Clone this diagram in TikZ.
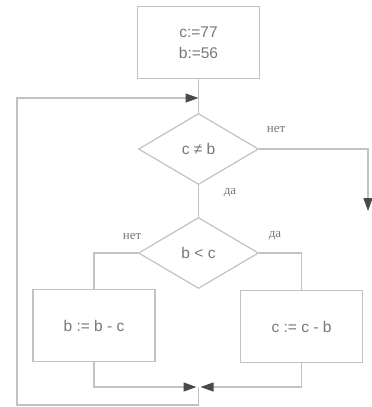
\documentclass[tikz,border=0pt]{standalone}
\usepackage{fontspec}
\setmainfont{Liberation Serif}
\newfontfamily\arialf{Liberation Sans}
\usetikzlibrary{arrows.meta,shapes.geometric}
\definecolor{ln}{HTML}{C2C2C2}
\definecolor{tx}{HTML}{777777}
\definecolor{ah}{HTML}{4A4A4A}
\begin{document}
\begin{tikzpicture}[x=1pt,y=-1pt,
  box/.style={draw=ln,line width=1.2pt,minimum width=122pt,minimum height=72pt,inner sep=0pt,text=tx,font=\arialf\fontsize{15.5}{21}\selectfont,align=center},
  dec/.style={draw=ln,line width=1.2pt,diamond,minimum width=120pt,minimum height=71pt,inner sep=0pt,text=tx,font=\arialf\fontsize{15.5}{20}\selectfont},
  lab/.style={text=tx,font=\fontsize{13}{15}\selectfont,inner sep=0pt},
  conn/.style={draw=ln,line width=1.2pt},
  arr/.style={conn,-{Triangle[length=13pt,width=9pt,color=ah,fill=ah]}}]
\useasboundingbox (0,0) rectangle (372,407);
\node[box] (init) at (198.5,42.5) {c:=77\\b:=56};
\node[dec] (d1) at (198.5,149) {c ≠ b};
\node[dec] (d2) at (198.5,253) {b < c};
\node[box] (lb) at (94,325.5) {b := b - c};
\node[box] (rb) at (301.5,326.5) {c := c - b};
\coordinate (m1) at (198.5,98);
\coordinate (out) at (368,211);
\coordinate (j) at (198.5,387);
\coordinate (jl) at (196.5,387);
\coordinate (jr) at (200.5,387);
\node[lab] (n1) at (276,129) {нет};
\node[lab] (y1) at (230,193) {да};
\node[lab] (n2) at (132,236) {нет};
\node[lab] (y2) at (275,236) {да};
\draw[conn] (init.south) -- (d1.north);
\draw[arr] (d1.east) -| (out);
\draw[conn] (d1.south) -- (d2.north);
\draw[conn] (d2.west) -| (lb.north);
\draw[conn] (d2.east) -| (rb.north);
\draw[arr] (lb.south) |- (jl);
\draw[arr] (rb.south) |- (jr);
\draw[arr] (j) -- (198.5,405) -| (17,98) -- (m1);
\end{tikzpicture}
\end{document}
